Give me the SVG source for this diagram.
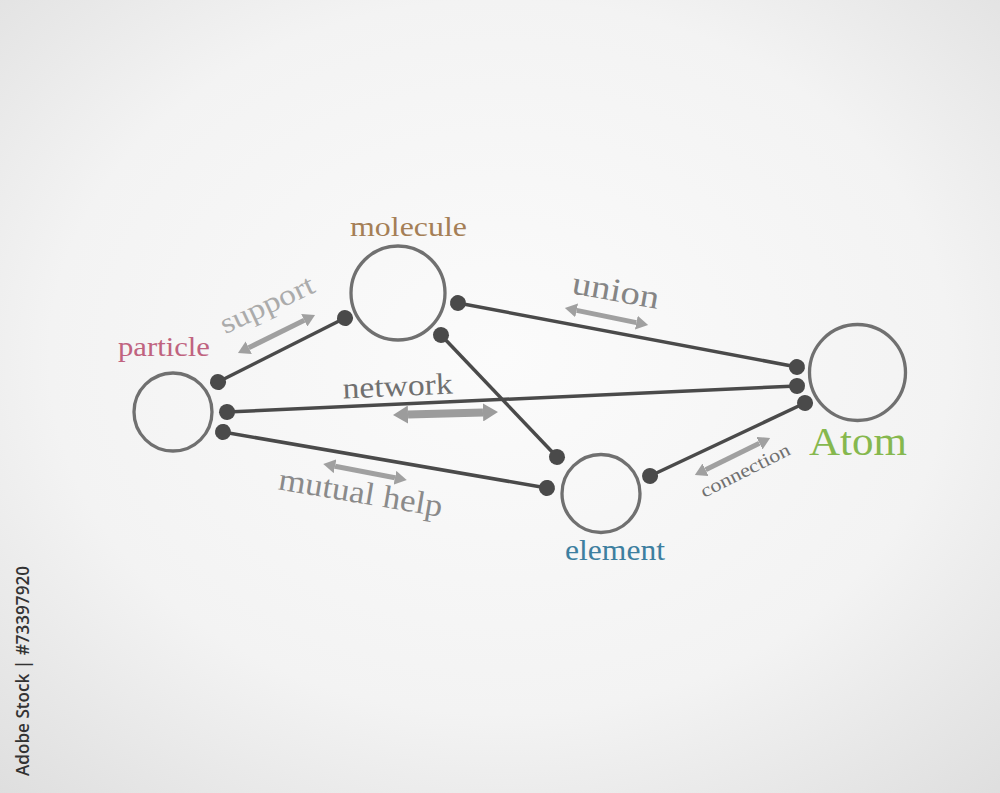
<svg xmlns="http://www.w3.org/2000/svg" width="1000" height="793" viewBox="0 0 1000 793">
<defs>
<radialGradient id="bg" cx="50%" cy="45%" r="75%">
<stop offset="0" stop-color="#fbfbfb"/>
<stop offset="0.6" stop-color="#f3f3f3"/>
<stop offset="1" stop-color="#dedede"/>
</radialGradient>
<marker id="dot" markerUnits="userSpaceOnUse" viewBox="-9 -9 18 18" markerWidth="18" markerHeight="18" refX="0" refY="0" orient="auto">
<circle r="8" fill="#4a4a4a"/>
</marker>
<marker id="head" markerUnits="userSpaceOnUse" viewBox="0 0 12 14" markerWidth="12" markerHeight="14" refX="0" refY="7" orient="auto-start-reverse">
<path d="M0,0 L12,7 L0,14 z" fill="#a0a0a0"/>
</marker>
<marker id="headB" markerUnits="userSpaceOnUse" viewBox="0 0 15 18" markerWidth="15" markerHeight="18" refX="0" refY="9" orient="auto-start-reverse">
<path d="M0,0 L15,9 L0,18 z" fill="#9c9c9c"/>
</marker>
</defs>
<style>
.node{fill:none;stroke:#707070;stroke-width:3.3}
.link{stroke:#4a4a4a;stroke-width:3.5;fill:none;marker-start:url(#dot);marker-end:url(#dot)}
.arr{stroke:#a0a0a0;stroke-width:5;marker-start:url(#head);marker-end:url(#head)}
.arrB{stroke:#9c9c9c;stroke-width:8;marker-start:url(#headB);marker-end:url(#headB)}
.t{font-family:"Liberation Serif","Times New Roman",serif}
.lbl{font-family:"Liberation Serif","Times New Roman",serif;text-anchor:middle}
</style>
<rect width="1000" height="793" fill="url(#bg)"/>

<g id="connectors">
<line class="link" x1="218" y1="382" x2="345" y2="318"/>
<line class="link" x1="227" y1="412" x2="797" y2="386"/>
<line class="link" x1="223" y1="432" x2="547" y2="488"/>
<line class="link" x1="458" y1="303" x2="797" y2="367"/>
<line class="link" x1="441" y1="335" x2="557" y2="457"/>
<line class="link" x1="650" y1="476" x2="805" y2="403"/>

<g transform="translate(276.5,334) rotate(-26.3)"><line class="arr" x1="-31" y1="0" x2="31" y2="0"/></g>
<g transform="translate(606.5,316.5) rotate(11.6)"><line class="arr" x1="-30.5" y1="0" x2="30.5" y2="0"/></g>
<g transform="translate(445.5,413.5) rotate(-1.6)"><line class="arrB" x1="-37.5" y1="0" x2="37.5" y2="0"/></g>
<g transform="translate(365,472) rotate(10.8)"><line class="arr" x1="-30.5" y1="0" x2="30.5" y2="0"/></g>
<g transform="translate(732.5,456.5) rotate(-26.3)"><line class="arr" x1="-30" y1="0" x2="30" y2="0"/></g>

<text class="lbl" transform="translate(271,313) rotate(-25)" font-size="29" fill="#ababab" textLength="101" lengthAdjust="spacingAndGlyphs">support</text>
<text class="lbl" transform="translate(614,301) rotate(10.3)" font-size="33" fill="#858585" textLength="88" lengthAdjust="spacingAndGlyphs">union</text>
<text class="lbl" transform="translate(398,396) rotate(-2.5)" font-size="30" fill="#707070" textLength="110" lengthAdjust="spacingAndGlyphs">network</text>
<text class="lbl" transform="translate(359,503) rotate(9.6)" font-size="32" fill="#8a8a8a" textLength="166" lengthAdjust="spacingAndGlyphs">mutual help</text>
<text class="lbl" transform="translate(748,476) rotate(-26.8)" font-size="19" fill="#707070" textLength="98" lengthAdjust="spacingAndGlyphs">connection</text>
</g>

<g id="particle">
<circle class="node" cx="173" cy="412" r="39"/>
<text class="t" x="118" y="356" font-size="27" fill="#c0637f" textLength="92" lengthAdjust="spacingAndGlyphs">particle</text>
</g>
<g id="molecule">
<circle class="node" cx="398" cy="293" r="47"/>
<text class="t" x="350" y="236" font-size="28" fill="#a57f56" textLength="117" lengthAdjust="spacingAndGlyphs">molecule</text>
</g>
<g id="atom">
<circle class="node" cx="857.5" cy="372.5" r="48"/>
<text class="t" x="809" y="455" font-size="41" fill="#86b84e" textLength="98" lengthAdjust="spacingAndGlyphs">Atom</text>
</g>
<g id="element">
<circle class="node" cx="601" cy="493.5" r="39"/>
<text class="t" x="565" y="560" font-size="29" fill="#3d7fa0" textLength="100" lengthAdjust="spacingAndGlyphs">element</text>
</g>

<text transform="translate(29,776) rotate(-90)" font-family="'Open Sans','DejaVu Sans',sans-serif" font-size="18" font-weight="600" fill="#333333" textLength="210" lengthAdjust="spacingAndGlyphs">Adobe Stock | #73397920</text>
</svg>
